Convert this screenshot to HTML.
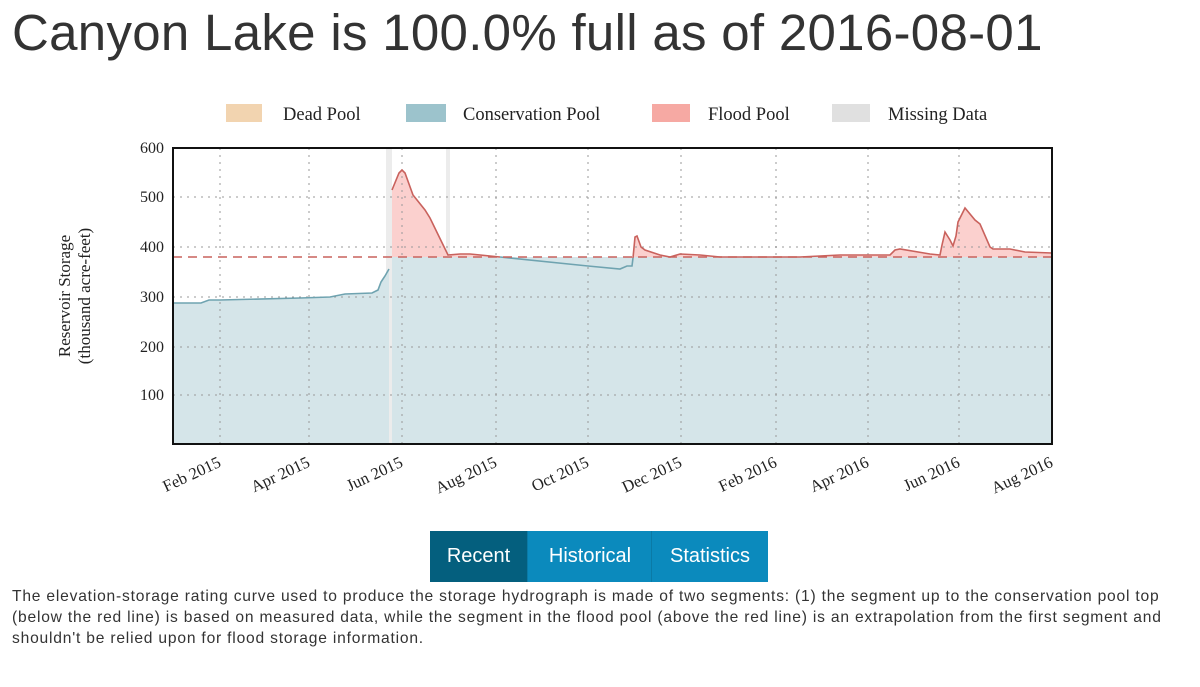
<!DOCTYPE html>
<html><head><style>
body{margin:0;width:1200px;height:687px;background:#fff;position:relative;overflow:hidden;font-family:"Liberation Sans",sans-serif;}
.t{position:absolute;left:12px;top:3px;font-size:51px;color:#333;white-space:nowrap;letter-spacing:0.3px}
.btn{position:absolute;top:531px;height:51px;line-height:51px;color:#fff;font-size:20px;text-align:center}
.p{position:absolute;left:12px;top:586px;width:1165px;font-size:15.6px;line-height:21px;color:#333;letter-spacing:0.8px}
</style></head><body>
<div class="t">Canyon Lake is 100.0% full as of 2016-08-01</div>
<svg width="1200" height="687" style="position:absolute;left:0;top:0">
<g font-family="Liberation Serif,serif" font-size="18.5" fill="#222">
<rect x="226" y="104" width="36" height="18" fill="#f2d4b0"/><text x="283" y="120">Dead Pool</text>
<rect x="406" y="104" width="40" height="18" fill="#9cc3cc"/><text x="463" y="120">Conservation Pool</text>
<rect x="652" y="104" width="38" height="18" fill="#f6a9a3"/><text x="708" y="120">Flood Pool</text>
<rect x="832" y="104" width="38" height="18" fill="#e0e0e0"/><text x="888" y="120">Missing Data</text>
</g>
<rect x="386" y="148" width="6" height="296" fill="#ececec"/>
<rect x="446" y="148" width="4" height="296" fill="#ececec"/>
<path d="M173,303 L201,303 L209,300 L220,300 L300,298 L330,297 L345,294 L372,293 L378,290 L381,282 L385,276 L389,269 L389,444 L173,444Z" fill="#d5e5e9"/>
<path d="M392,257 L1052,257 L1052,444 L392,444Z" fill="#d5e5e9"/>
<path d="M500,257 L588,266 L620,269 L627,266 L632,266 L633,258 L633,444 L500,444Z" fill="#d5e5e9"/>
<path d="M392,257 L392,190 L399,173 L402,170 L405,173 L413,195 L425,210 L430,218 L448,257Z" fill="#fbd0ce"/>
<path d="M450,257 L450,255 L460,254 L470,254 L490,256 L500,257Z" fill="#fbd0ce"/>
<path d="M633,257 L635,237 L637,236 L641,247 L645,250 L660,255 L670,257 L680,254 L700,255 L720,257 L800,257 L840,255 L890,255 L895,250 L900,249 L930,254 L940,255 L942,245 L945,232 L950,240 L953,246 L956,236 L958,222 L965,208 L975,220 L980,224 L990,247 L993,249 L1010,249 L1025,252 L1052,253 L1052,257Z" fill="#fbd0ce"/>
<g stroke="#999" stroke-dasharray="2,5" stroke-width="1">
<path d="M220,148V444M309,148V444M402,148V444M496,148V444M588,148V444M681,148V444M776,148V444M868,148V444M959,148V444M173,197H1052M173,247H1052M173,297H1052M173,347H1052M173,395H1052"/>
</g>
<path d="M173,303 L201,303 L209,300 L220,300 L300,298 L330,297 L345,294 L372,293 L378,290 L381,282 L385,276 L389,269" fill="none" stroke="#6fa3b0" stroke-width="1.6"/>
<path d="M500,257 L588,266 L620,269 L627,266 L632,266 L633,258" fill="none" stroke="#6fa3b0" stroke-width="1.6"/>
<path d="M392,190 L399,173 L402,170 L405,173 L413,195 L425,210 L430,218 L448,255 L460,254 L470,254 L490,256 L500,257" fill="none" stroke="#c9625d" stroke-width="1.6"/>
<path d="M633,258 L635,237 L637,236 L641,247 L645,250 L660,255 L670,257 L680,254 L700,255 L720,257 L800,257 L840,255 L890,255 L895,250 L900,249 L930,254 L940,255 L942,245 L945,232 L950,240 L953,246 L956,236 L958,222 L965,208 L975,220 L980,224 L990,247 L993,249 L1010,249 L1025,252 L1052,253" fill="none" stroke="#c9625d" stroke-width="1.6"/>
<path d="M173,257H1052" stroke="#c9625d" stroke-width="1.6" stroke-dasharray="9,6"/>
<rect x="173" y="148" width="879" height="296" fill="none" stroke="#111" stroke-width="2"/>
<g font-family="Liberation Serif,serif" font-size="16" fill="#222" text-anchor="end">
<text x="164" y="153">600</text><text x="164" y="202">500</text><text x="164" y="252">400</text><text x="164" y="302">300</text><text x="164" y="352">200</text><text x="164" y="400">100</text>
</g>
<g font-family="Liberation Serif,serif" font-size="16.5" fill="#222" text-anchor="end">
<text transform="translate(222,466) rotate(-25)">Feb 2015</text>
<text transform="translate(311,466) rotate(-25)">Apr 2015</text>
<text transform="translate(404,466) rotate(-25)">Jun 2015</text>
<text transform="translate(498,466) rotate(-25)">Aug 2015</text>
<text transform="translate(590,466) rotate(-25)">Oct 2015</text>
<text transform="translate(683,466) rotate(-25)">Dec 2015</text>
<text transform="translate(778,466) rotate(-25)">Feb 2016</text>
<text transform="translate(870,466) rotate(-25)">Apr 2016</text>
<text transform="translate(961,466) rotate(-25)">Jun 2016</text>
<text transform="translate(1054,466) rotate(-25)">Aug 2016</text>
</g>
<g font-family="Liberation Serif,serif" font-size="17" fill="#222" text-anchor="middle">
<text transform="translate(70,296) rotate(-90)">Reservoir Storage</text>
<text transform="translate(90,296) rotate(-90)">(thousand acre-feet)</text>
</g>
</svg>
<div class="btn" style="left:430px;width:97px;background:#045f7e">Recent</div>
<div class="btn" style="left:527px;width:124px;background:#0b8abd;border-left:1px solid #0a7aa6">Historical</div>
<div class="btn" style="left:651px;width:116px;background:#0b8abd;border-left:1px solid #0a7aa6">Statistics</div>
<div class="p">The elevation-storage rating curve used to produce the storage hydrograph is made of two segments: (1) the segment up to the conservation pool top (below the red line) is based on measured data, while the segment in the flood pool (above the red line) is an extrapolation from the first segment and shouldn't be relied upon for flood storage information.</div>
</body></html>
